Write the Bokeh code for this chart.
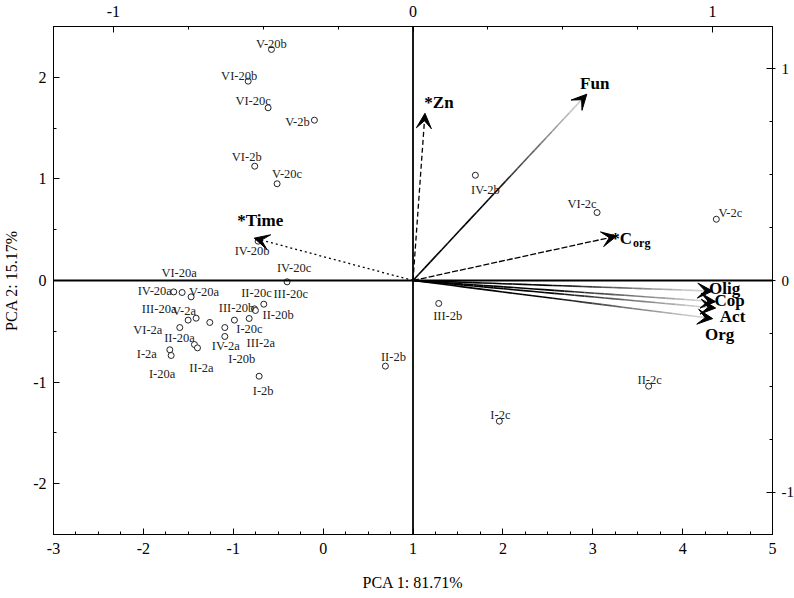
import numpy as np
from bokeh.plotting import figure
from bokeh.models import (Range1d, LinearAxis, FixedTicker, ColumnDataSource,
                          Arrow, VeeHead, Span, CustomJSTickFormatter)
from bokeh.core.properties import value
from bokeh.embed import file_html
from bokeh.resources import INLINE

# ---------------- data ----------------
# sample scores on PCA 1 / PCA 2 (bottom / left axes)
sample_names = ["V-20b", "VI-20b", "VI-20c", "V-2b", "VI-2b", "V-20c", "IV-2b",
                "VI-2c", "V-2c", "III-2b", "II-2b", "II-2c", "I-2c", "IV-20b",
                "IV-20c", "VI-20a", "IV-20a", "V-20a", "III-20a", "V-2a", "VI-2a",
                "I-2a", "I-20a", "II-20a", "II-2a", "I-20b", "III-2a", "IV-2a",
                "I-20c", "II-20b", "III-20b", "II-20c", "III-20c", "I-2b"]
pca1 = [-0.575, -0.834, -0.612, -0.097, -0.761, -0.512, 1.694,
        3.048, 4.375, 1.286, 0.693, 3.622, 1.961, -0.723,
        -0.401, -1.569, -1.662, -1.469, -1.502, -1.413, -1.595,
        -1.706, -1.691, -1.432, -1.398, -1.094, -1.094, -1.261,
        -0.987, -0.823, -0.764, -0.753, -0.660, -0.712]
pca2 = [2.274, 1.962, 1.700, 1.578, 1.125, 0.952, 1.036,
        0.669, 0.603, -0.226, -0.843, -1.040, -1.385, 0.387,
        -0.013, -0.118, -0.112, -0.161, -0.390, -0.371, -0.463,
        -0.682, -0.738, -0.630, -0.663, -0.551, -0.463, -0.413,
        -0.390, -0.374, -0.279, -0.295, -0.233, -0.942]

# variable loadings (top / right axes)
var_names = ["Fun", "Olig", "Cop", "Act", "Org", "*Zn", "*C", "*Time"]
load1 = [0.58, 1.00, 1.01, 1.01, 1.00, 0.04, 0.68, -0.53]
load2 = [0.88, -0.05, -0.10, -0.13, -0.18, 0.79, 0.21, 0.20]
var_kind = ["solid", "solid", "solid", "solid", "solid", "dashed", "dashed", "dotted"]

bottom_ticks = [-3, -2, -1, 0, 1, 2, 3, 4, 5]
left_ticks = [-2, -1, 0, 1, 2]
load_ticks = [-1, 0, 1]

# ---------------- layout / style (not data) ----------------
label_dx = [0, -9, -15, -17, -8, 10, 10, -15, 14, 9, 8, 1, 1, -6,
            7, -3, -19, 13, -29, -12, -32, -23, -9, -15, 4, 17, 36, 16,
            15, 29, -18, 1, 27, 4]
label_dy = [-5, -5, -7, 2, -9, -10, 15, -9, -6, 13, -9, -6, -6, 10,
            -14, -19, -1, -5, -11, -7, 2, 4, 19, -7, 20, 23, 15, 24,
            9, -3, -1, -17, -10, 15]
var_dx = [8, 12, 14, 17, 7, 14, 5, 6]
var_dy = [-11, -3, -1, 8, 16, -11, 2, -18]

SERIF = "Liberation Serif"

p = figure(frame_width=719, frame_height=508, output_backend="svg",
           toolbar_location=None,
           x_range=Range1d(-3, 5), y_range=Range1d(-2.5, 2.5),
           x_axis_location=None, y_axis_location=None,
           min_border_left=48, min_border_right=0, min_border_top=26,
           min_border_bottom=50)
p.extra_x_ranges = {"load": Range1d(-1.2, 1.2)}
p.extra_y_ranges = {"load": Range1d(-1.2, 1.2)}
p.xgrid.visible = False
p.ygrid.visible = False
p.outline_line_color = "black"
p.outline_line_width = 1
p.background_fill_color = "white"
p.border_fill_color = "white"

fmt_code = "return String(tick);"


def style_axis(ax, standoff):
    ax.axis_line_color = "black"
    ax.major_tick_line_color = "black"
    ax.minor_tick_line_color = "black"
    ax.major_tick_in = 6
    ax.major_tick_out = 0
    ax.minor_tick_in = 3
    ax.minor_tick_out = 0
    ax.formatter = CustomJSTickFormatter(code=fmt_code)
    ax.major_label_text_font = SERIF
    ax.major_label_text_font_size = "16px"
    ax.major_label_text_color = "black"
    ax.major_label_standoff = standoff
    ax.axis_label_text_font = SERIF
    ax.axis_label_text_font_size = "16px"
    ax.axis_label_text_font_style = "normal"
    ax.axis_label_text_color = "black"


xb = LinearAxis(axis_label="PCA 1: 81.71%",
                ticker=FixedTicker(ticks=bottom_ticks,
                                   minor_ticks=list(np.arange(-3, 5.001, 0.25))))
style_axis(xb, 8)
xb.axis_label_standoff = 17
p.add_layout(xb, "below")

yl = LinearAxis(axis_label="PCA 2: 15.17%",
                ticker=FixedTicker(ticks=left_ticks,
                                   minor_ticks=list(np.arange(-2.5, 2.501, 0.5))))
style_axis(yl, 7)
yl.axis_label_standoff = 10
p.add_layout(yl, "left")

xt = LinearAxis(x_range_name="load",
                ticker=FixedTicker(ticks=load_ticks,
                                   minor_ticks=list(np.arange(-1.0, 1.001, 0.25))))
style_axis(xt, 10)
p.add_layout(xt, "above")

yr = LinearAxis(y_range_name="load",
                ticker=FixedTicker(ticks=load_ticks,
                                   minor_ticks=list(np.arange(-1.0, 1.001, 0.25))))
style_axis(yr, 6)
yr.major_tick_out = 3
yr.major_label_text_font_size = "15px"
p.add_layout(yr, "right")

# origin lines of the loading system
p.add_layout(Span(location=0, dimension="height", x_range_name="load",
                  line_color="black", line_width=1.8))
p.add_layout(Span(location=0, dimension="width", y_range_name="load",
                  line_color="black", line_width=1.8))

# ---------------- loading arrows ----------------
N = 30
sx0, sy0, sx1, sy1, scol = [], [], [], [], []
for i, k in enumerate(var_kind):
    if k != "solid":
        continue
    for j in range(N):
        f0, f1 = j / N, (j + 1) / N
        fm = 0.5 * (f0 + f1)
        g = int(min(205, max(0, 205 * (fm - 0.45) / 0.48)))
        sx0.append(load1[i] * f0)
        sy0.append(load2[i] * f0)
        sx1.append(load1[i] * f1)
        sy1.append(load2[i] * f1)
        scol.append("#%02x%02x%02x" % (g, g, g))
p.segment(sx0, sy0, sx1, sy1, color=scol, line_width=1.6,
          x_range_name="load", y_range_name="load")

dash_map = {"dashed": "5 3", "dotted": "2 3"}
for i, k in enumerate(var_kind):
    if k == "solid":
        continue
    p.segment([0], [0], [load1[i]], [load2[i]], color="black", line_width=1.3,
              line_dash=dash_map[k] if var_names[i] != "*C" else "6 2",
              x_range_name="load", y_range_name="load")

head_src = ColumnDataSource(dict(x0=[0] * len(load1), y0=[0] * len(load1),
                                 x1=load1, y1=load2))
p.add_layout(Arrow(end=VeeHead(size=15, fill_color="black", line_color="black",
                               line_width=1),
                   x_start="x0", y_start="y0", x_end="x1", y_end="y1",
                   source=head_src, line_alpha=0,
                   x_range_name="load", y_range_name="load"))

# variable labels
var_src = ColumnDataSource(dict(x=load1, y=load2, t=var_names, dx=var_dx, dy=var_dy))
p.text(x="x", y="y", text="t", x_offset="dx", y_offset="dy", source=var_src,
       text_font=value(SERIF), text_font_size="17px", text_font_style="bold",
       text_align="center", text_baseline="middle", text_color="black",
       x_range_name="load", y_range_name="load")
ci = var_names.index("*C")
p.text(x=[load1[ci]], y=[load2[ci]], text=["org"], x_offset=25, y_offset=7,
       text_font=value(SERIF), text_font_size="12px", text_font_style="bold",
       text_align="center", text_baseline="middle", text_color="black",
       x_range_name="load", y_range_name="load")

# ---------------- sample points ----------------
src = ColumnDataSource(dict(x=pca1, y=pca2, name=sample_names,
                            dx=label_dx, dy=label_dy))
p.scatter(x="x", y="y", source=src, marker="circle", size=6,
          fill_color="white", line_color="#222222", line_width=1)
p.text(x="x", y="y", text="name", x_offset="dx", y_offset="dy", source=src,
       text_font=value(SERIF), text_font_size="12.5px", text_color="#222222",
       text_align="center", text_baseline="middle")

open("out.html", "w").write(file_html(p, INLINE))
